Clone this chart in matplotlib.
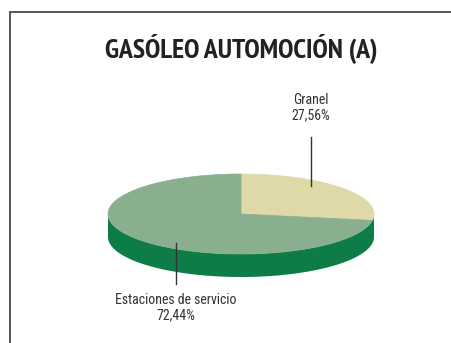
import numpy as np
import matplotlib
matplotlib.use("Agg")
import matplotlib.pyplot as plt
from matplotlib.patches import Polygon

title = "GASÓLEO AUTOMOCIÓN (A)"
categories = ["Granel", "Estaciones de servicio"]
values = [27.56, 72.44]
value_labels = ["27,56%", "72,44%"]

top_colors = ["#DFD9A8", "#8AAF8E"]
side_color = "#0E7C47"

W, H = 451, 343
fig = plt.figure(figsize=(W / 100, H / 100), dpi=100)
ax = fig.add_axes([0, 0, 1, 1])
ax.set_xlim(0, W)
ax.set_ylim(H, 0)
ax.axis("off")

label_font = ["Roboto Condensed", "DejaVu Sans"]
title_font = ["PT Sans Narrow", "Roboto Condensed", "DejaVu Sans"]

# frame (left and top edges)
ax.plot([10, 10, W + 5], [H + 5, 12, 12], color="#555555", lw=1.4,
        solid_capstyle="butt", solid_joinstyle="miter")

ax.text(241, 58, title, ha="center", va="baseline", fontsize=20.1,
        fontweight="bold", family=title_font, color="#222222")

# 3D pie geometry
cx, cy, rx, ry, depth = 241, 214, 133, 40, 23


def ellipse_pts(t_deg, dy=0.0):
    t = np.radians(t_deg)
    return np.column_stack([cx + rx * np.cos(t), cy - ry * np.sin(t) + dy])


# side wall (front half)
t_front = np.linspace(180, 360, 200)
side = np.vstack([ellipse_pts(t_front), ellipse_pts(t_front[::-1], depth)])
ax.add_patch(Polygon(side, closed=True, facecolor=side_color,
                     edgecolor="none"))

# top wedges, starting at 12 o'clock, going clockwise
fracs = np.array(values) / sum(values)
start = 90.0
for frac, col in zip(fracs, top_colors):
    end = start - 360 * frac
    arc = ellipse_pts(np.linspace(start, end, 200))
    pts = np.vstack([[cx, cy], arc])
    ax.add_patch(Polygon(pts, closed=True, facecolor=col, edgecolor=col,
                         lw=0.5))
    start = end

# leader lines and labels
label_pos = [(311, 108), (176, 308)]
line_seg = [((311, 137), (311, 186)), ((176, 243), (176, 284))]
for name, vl, (lx, ly), (p0, p1) in zip(categories, value_labels,
                                         label_pos, line_seg):
    ax.plot([p0[0], p1[0]], [p0[1], p1[1]], color="#333333", lw=1.0)
    ax.text(lx, ly, f"{name}\n{vl}", ha="center", va="center",
            fontsize=10, family=label_font, color="#333333", linespacing=1.1)

fig.savefig("out.png", dpi=100)
